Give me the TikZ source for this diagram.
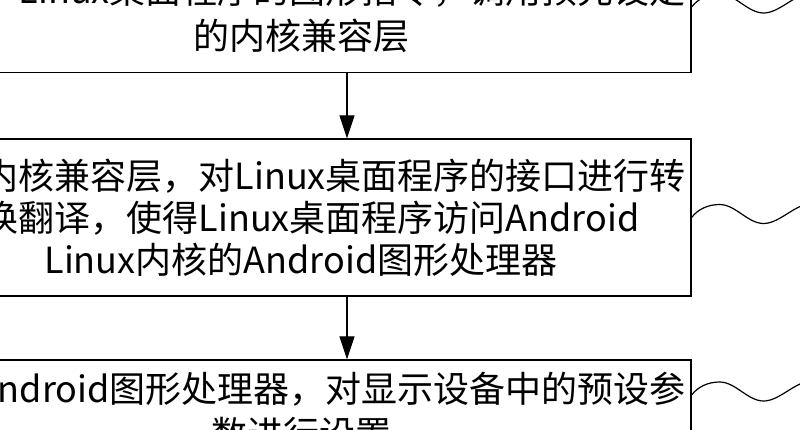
\documentclass[tikz,border=0pt]{standalone}
\usepackage{fontspec}
\setmainfont{Noto Sans CJK SC}
\usetikzlibrary{arrows.meta,calc}
\newcommand{\wavefrom}[2]{%
  \coordinate (#2) at ($(#1)+(120,-14)$);
  \draw[wave] (#1) .. controls ($(#1)+(6,-8)$) and ($(#1)+(16,-13)$) .. ($(#1)+(28,-13)$)
    .. controls ($(#1)+(44,-13)$) and ($(#1)+(56,6)$) .. ($(#1)+(72,6)$)
    .. controls ($(#1)+(88,6)$) and ($(#1)+(104,-14)$) .. (#2);}
\begin{document}
\begin{tikzpicture}[x=1pt,y=-1pt,
  box/.style={draw=black, line width=1.3pt, rectangle, minimum width=780pt, inner sep=0pt},
  txt/.style={inner sep=0pt, font=\fontsize{36}{42}\selectfont, text height=31.7pt, text depth=4.3pt},
  arr/.style={line width=1.2pt, -{Triangle[length=23pt,width=15pt]}},
  wave/.style={line width=1.2pt}]
\fill[white] (0,0) rectangle (800,429);
\useasboundingbox (0,0) rectangle (800,429);
\clip (0,0) rectangle (800,429);

% boxes
\node[box, minimum height=115pt] (b1) at (301,15) {};
\node[box, minimum height=157pt] (b2) at (301,217.5) {};
\node[box, minimum height=115pt] (b3) at (301,417.5) {};

% texts
\node[txt, anchor=east] (t11) at (686,-10) {Linux桌面程序的图形指令，调用预先设定};
\node[txt] (t12) at (301,36) {的内核兼容层};
\node[txt, anchor=east] (t21) at (686,175.5) {内核兼容层，对Linux桌面程序的接口进行转};
\node[txt, anchor=west] (t22) at ($(t21.west)+(0,42)$) {换翻译，使得Linux桌面程序访问Android};
\node[txt] (t23) at (301,259.5) {Linux内核的Android图形处理器};
\node[txt, anchor=east] (t31) at (686,389) {Android图形处理器，对显示设备中的预设参};
\node[txt] (t32) at (301,434) {数进行设置};

% arrows
\coordinate (ax) at (347,0);
\draw[arr] (b1.south -| ax) -- (b2.north -| ax);
\draw[arr] (b2.south -| ax) -- (b3.north -| ax);

% wavy leader lines
\coordinate (w1) at ($(b1.east)+(0,-8)$);
\coordinate (w2) at (b2.east);
\coordinate (w3) at ($(b3.east)+(0,-22.5)$);
\wavefrom{w1}{e1}
\wavefrom{w2}{e2}
\wavefrom{w3}{e3}
\end{tikzpicture}
\end{document}
